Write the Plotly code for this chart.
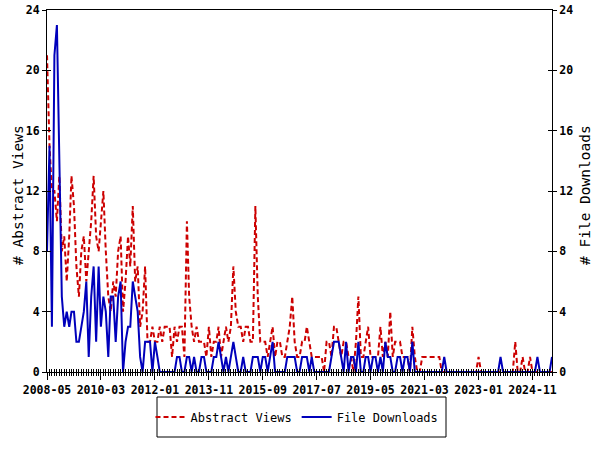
import plotly.graph_objects as go
import pandas as pd

# Monthly values, 2008-05 .. 2025-07
abstract_views = [
    21, 15, 12, 12, 10, 13, 8, 9, 6, 9,
    13, 11, 7, 5, 8, 9, 6, 8, 10, 13,
    9, 8, 10, 12, 8, 5, 4, 6, 5, 8,
    9, 4, 6, 9, 7, 11, 6, 7, 3, 4,
    7, 2, 2, 3, 2, 2, 3, 2, 3, 3,
    3, 1, 3, 2, 3, 3, 1, 10, 5, 3,
    2, 3, 2, 2, 2, 1, 3, 1, 2, 2,
    3, 1, 2, 3, 2, 3, 7, 4, 3, 3,
    2, 3, 3, 2, 2, 11, 5, 2, 2, 2,
    1, 2, 3, 1, 2, 2, 1, 1, 2, 3,
    5, 2, 1, 1, 2, 2, 3, 2, 1, 1,
    1, 1, 1, 0, 2, 2, 1, 3, 3, 2,
    1, 2, 2, 1, 1, 0, 2, 5, 1, 1,
    2, 3, 1, 1, 1, 1, 3, 1, 2, 1,
    4, 1, 2, 2, 2, 1, 1, 1, 0, 3,
    1, 0, 0, 1, 1, 1, 1, 1, 1, 1,
    1, 0, 0, 0, 0, 0, 0, 0, 0, 0,
    0, 0, 0, 0, 0, 0, 1, 0, 0, 0,
    0, 0, 0, 0, 0, 0, 0, 0, 0, 0,
    0, 2, 0, 0, 1, 0, 0, 1, 0, 0,
    0, 0, 0, 0, 0, 0, 0,
]

file_downloads = [
    8, 15, 3, 21, 23, 14, 5, 3, 4, 3,
    4, 4, 2, 2, 3, 4, 6, 1, 5, 7,
    2, 7, 3, 5, 4, 1, 5, 5, 2, 5,
    6, 0, 2, 3, 3, 6, 5, 4, 1, 0,
    2, 2, 2, 0, 2, 1, 0, 0, 0, 0,
    0, 0, 0, 1, 1, 0, 0, 1, 1, 0,
    1, 0, 0, 1, 1, 0, 0, 0, 1, 1,
    2, 1, 0, 1, 0, 1, 2, 1, 0, 0,
    1, 0, 0, 0, 1, 1, 1, 0, 1, 1,
    0, 1, 2, 0, 0, 0, 0, 0, 1, 1,
    1, 1, 0, 0, 1, 1, 1, 0, 1, 0,
    0, 0, 0, 0, 0, 0, 1, 2, 2, 2,
    1, 0, 2, 0, 1, 1, 0, 2, 0, 0,
    1, 1, 0, 1, 1, 0, 1, 0, 2, 1,
    1, 0, 0, 1, 1, 0, 1, 1, 0, 2,
    0, 0, 0, 0, 0, 0, 0, 0, 0, 0,
    0, 0, 1, 0, 0, 0, 0, 0, 0, 0,
    0, 0, 0, 0, 0, 0, 0, 0, 0, 0,
    0, 0, 0, 0, 0, 1, 0, 0, 0, 0,
    0, 0, 0, 0, 0, 0, 0, 0, 0, 0,
    1, 0, 0, 0, 0, 0, 1,
]

months = pd.date_range(start="2008-05-01", periods=len(abstract_views), freq="MS")
x_range = ["2008-05-01", "2025-07-01"]
y_ticks = [0, 4, 8, 12, 16, 20, 24]
left_title = "# Abstract Views"
right_title = "# File Downloads"

FONT = "DejaVu Sans Mono"
RED = "#CC0000"
BLUE = "#0000BB"

# Plot area in page pixels: x 47..552, y 10..372 (page body margin removed below)
W, H = 600, 450
L, T = 47, 10
R = W - 552
B = H - 372
PW, PH = W - L - R, H - T - B


def px_x(px):
    return (px - L) / PW


def px_y(py):
    return (H - B - py) / PH


fig = go.Figure()
fig.add_trace(go.Scatter(
    x=months, y=abstract_views, mode="lines", name="Abstract Views",
    line=dict(color=RED, width=2, dash="5px,3px"), yaxis="y"))
fig.add_trace(go.Scatter(
    x=months, y=file_downloads, mode="lines", name="File Downloads",
    line=dict(color=BLUE, width=2), yaxis="y"))
# invisible helpers so the overlay axes are drawn
fig.add_trace(go.Scatter(x=[None], y=[None], xaxis="x2", yaxis="y2", showlegend=False, hoverinfo="skip"))
fig.add_trace(go.Scatter(x=[None], y=[None], xaxis="x2", yaxis="y3", showlegend=False, hoverinfo="skip"))
fig.add_trace(go.Scatter(x=[None], y=[None], xaxis="x2", yaxis="y4", showlegend=False, hoverinfo="skip"))

tickfont = dict(family=FONT, size=11.5, color="black", weight="bold")
titlefont = dict(family=FONT, size=14.5, color="black")

common_x = dict(type="date", range=x_range, tick0="2008-05-01", dtick="M22",
                linecolor="black", linewidth=1, showgrid=False, zeroline=False,
                automargin=False, ticklabeloverflow="allow")
common_y = dict(range=[0, 24], tickmode="array", tickvals=y_ticks,
                linecolor="black", linewidth=1, showgrid=False, zeroline=False,
                automargin=False, ticklabeloverflow="allow")

fig.update_layout(
    width=W, height=H,
    margin=dict(l=L, r=R, t=T, b=B, autoexpand=False),
    paper_bgcolor="white", plot_bgcolor="white",
    showlegend=True,
    legend=dict(orientation="h", x=px_x(297), xanchor="center",
                y=px_y(417), yanchor="middle",
                bgcolor="rgba(0,0,0,0)", borderwidth=0,
                font=dict(family=FONT, size=12, color="black"),
                itemwidth=30, tracegroupgap=0),
    shapes=[dict(type="rect", xref="paper", yref="paper",
                 x0=px_x(157), x1=px_x(446), y0=px_y(437), y1=px_y(397),
                 line=dict(color="black", width=1), fillcolor="rgba(0,0,0,0)")],
    annotations=[
        dict(text=left_title, xref="paper", yref="paper", x=px_x(18), y=px_y(195),
             xanchor="center", yanchor="middle", textangle=-90, showarrow=False,
             font=titlefont),
        dict(text=right_title, xref="paper", yref="paper", x=px_x(585), y=px_y(195),
             xanchor="center", yanchor="middle", textangle=-90, showarrow=False,
             font=titlefont),
    ],
    xaxis=dict(**common_x, tickformat="%Y-%m", ticks="outside", ticklen=7,
               tickcolor="black", tickfont=tickfont, mirror=True,
               minor=dict(dtick="M1", tick0="2008-05-01", ticks="outside", ticklen=3,
                          tickcolor="black")),
    xaxis2=dict(**common_x, overlaying="x", anchor="y", side="bottom",
                ticks="inside", ticklen=3, tickcolor="black", showticklabels=False,
                minor=dict(dtick="M1", tick0="2008-05-01", ticks="inside", ticklen=3,
                           tickcolor="black")),
    yaxis=dict(**common_y, ticks="outside", ticklen=4, tickcolor="black",
               tickfont=tickfont, mirror=True),
    yaxis2=dict(**common_y, overlaying="y", side="right", anchor="x",
                ticks="outside", ticklen=4, tickcolor="black", tickfont=tickfont),
    yaxis3=dict(**common_y, overlaying="y", side="left", anchor="x",
                ticks="inside", ticklen=4, tickcolor="black", showticklabels=False),
    yaxis4=dict(**common_y, overlaying="y", side="right", anchor="x",
                ticks="inside", ticklen=4, tickcolor="black", showticklabels=False),
)

fig.write_html("out.html",
               config={"displayModeBar": False},
               post_script="document.body.style.margin='0';"
                           "document.body.style.overflow='hidden';")
